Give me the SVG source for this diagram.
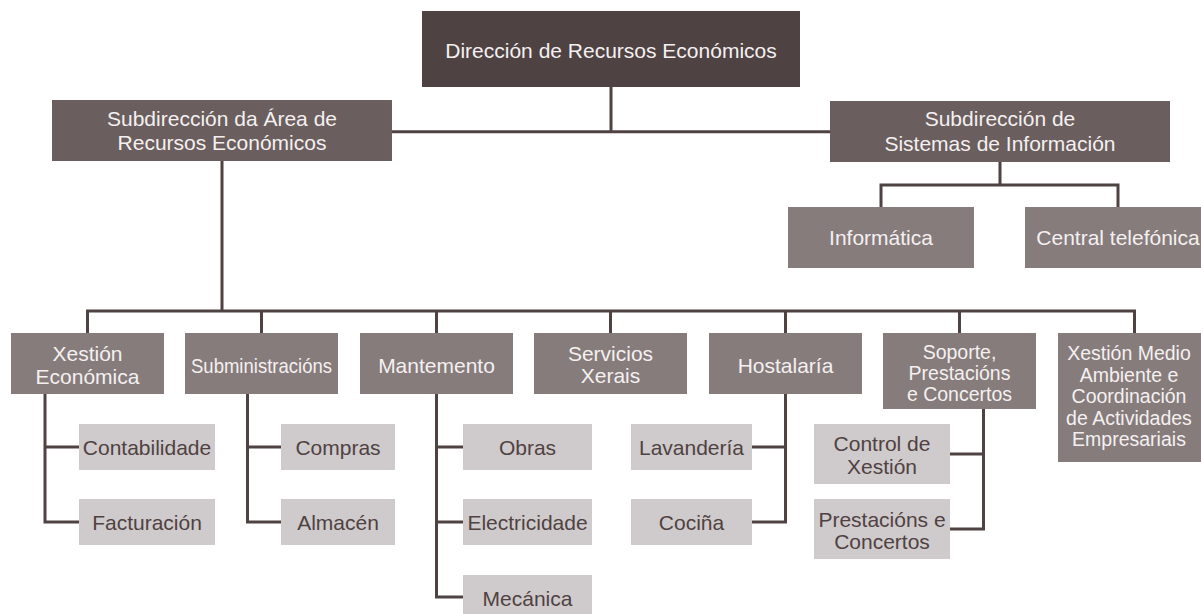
<svg xmlns="http://www.w3.org/2000/svg" width="1201" height="614" viewBox="0 0 1201 614">
<style>
text{font-family:"Liberation Sans",Arial,sans-serif;font-size:21px;text-anchor:middle}
.sm{font-size:19.5px}
.l0{fill:#4f4242}
.l1{fill:#6b5e5e}
.l2{fill:#877c7c}
.l3{fill:#cfcacb}
.tw{fill:#f4f0f0}
.td{fill:#4f4242}
.c{fill:none;stroke:#4f4242;stroke-width:3;stroke-linejoin:miter}
</style>
<rect width="1201" height="614" fill="#ffffff"/>
<g id="connectors">
<path class="c" d="M611,87V131.7M392,131.7H830"/>
<path class="c" d="M1000,162V185M881,207V185H1118V207"/>
<path class="c" d="M222,161V311M87.5,333V311H1134.5V333M261.5,311V333M436.5,311V333M610.5,311V333M785.5,311V333M959.5,311V333"/>
<path class="c" d="M45,394V522H79M45,447H79"/>
<path class="c" d="M247.5,394V522H281M247.5,447H281"/>
<path class="c" d="M436.5,394V597H463M436.5,447H463M436.5,522H463"/>
<path class="c" d="M785.5,394V522H752M785.5,447H752"/>
<path class="c" d="M983.5,409V529H950M983.5,454H950"/>
</g>
<g id="n-direccion"><rect class="l0" x="422" y="11" width="378" height="76"/><text class="tw" x="611" y="57.5">Dirección de Recursos Económicos</text></g>
<g id="n-sub-area"><rect class="l1" x="52" y="100" width="340" height="61"/><text class="tw" x="222" y="126">Subdirección da Área de</text><text class="tw" x="222" y="150">Recursos Económicos</text></g>
<g id="n-sub-sistemas"><rect class="l1" x="830" y="101" width="340" height="61"/><text class="tw" x="1000" y="126">Subdirección de</text><text class="tw" x="1000" y="150.5">Sistemas de Información</text></g>
<g id="n-informatica"><rect class="l2" x="788" y="207" width="186" height="61"/><text class="tw" x="881" y="245">Informática</text></g>
<g id="n-central"><rect class="l2" x="1025" y="207" width="186" height="61"/><text class="tw" x="1118" y="245">Central telefónica</text></g>
<g id="n-xestion-economica"><rect class="l2" x="11" y="333" width="153" height="61"/><text class="tw" x="87.5" y="360.7">Xestión</text><text class="tw" x="87.5" y="384">Económica</text></g>
<g id="n-subministracions"><rect class="l2" x="185" y="333" width="153" height="61"/><text class="tw" x="261.5" y="372.7" textLength="141" lengthAdjust="spacingAndGlyphs">Subministracións</text></g>
<g id="n-mantemento"><rect class="l2" x="360" y="333" width="153" height="61"/><text class="tw" x="436.5" y="372.7">Mantemento</text></g>
<g id="n-servicios"><rect class="l2" x="534" y="333" width="153" height="61"/><text class="tw" x="610.5" y="360.7">Servicios</text><text class="tw" x="610.5" y="383">Xerais</text></g>
<g id="n-hostalaria"><rect class="l2" x="709" y="333" width="153" height="61"/><text class="tw" x="785.5" y="372.7">Hostalaría</text></g>
<g id="n-soporte"><rect class="l2" x="883" y="333" width="153" height="76"/><text class="tw sm" x="959.5" y="359.3">Soporte,</text><text class="tw sm" x="959.5" y="380">Prestacións</text><text class="tw sm" x="959.5" y="400.5">e Concertos</text></g>
<g id="n-medio-ambiente"><rect class="l2" x="1058" y="333" width="153" height="129"/><text class="tw sm" x="1129" y="360">Xestión Medio</text><text class="tw sm" x="1129" y="381.5">Ambiente e</text><text class="tw sm" x="1129" y="403">Coordinación</text><text class="tw sm" x="1129" y="424.5">de Actividades</text><text class="tw sm" x="1129" y="446">Empresariais</text></g>
<g id="n-contabilidade"><rect class="l3" x="79" y="424" width="136" height="46"/><text class="td" x="147" y="455">Contabilidade</text></g>
<g id="n-facturacion"><rect class="l3" x="79" y="499" width="136" height="46"/><text class="td" x="147" y="530">Facturación</text></g>
<g id="n-compras"><rect class="l3" x="281" y="424" width="114" height="46"/><text class="td" x="338" y="455">Compras</text></g>
<g id="n-almacen"><rect class="l3" x="281" y="499" width="114" height="46"/><text class="td" x="338" y="530">Almacén</text></g>
<g id="n-obras"><rect class="l3" x="463" y="424" width="129" height="46"/><text class="td" x="527.5" y="455">Obras</text></g>
<g id="n-electricidade"><rect class="l3" x="463" y="499" width="129" height="46"/><text class="td" x="527.5" y="530">Electricidade</text></g>
<g id="n-mecanica"><rect class="l3" x="463" y="575" width="129" height="46"/><text class="td" x="527.5" y="606">Mecánica</text></g>
<g id="n-lavanderia"><rect class="l3" x="631" y="424" width="121" height="46"/><text class="td" x="691.5" y="455">Lavandería</text></g>
<g id="n-cocina"><rect class="l3" x="631" y="499" width="121" height="46"/><text class="td" x="691.5" y="530">Cociña</text></g>
<g id="n-control"><rect class="l3" x="814" y="424" width="136" height="60"/><text class="td" x="882" y="451">Control de</text><text class="td" x="882" y="474">Xestión</text></g>
<g id="n-prestacions"><rect class="l3" x="814" y="499" width="136" height="60"/><text class="td" x="882" y="526.5">Prestacións e</text><text class="td" x="882" y="549">Concertos</text></g>
</svg>
